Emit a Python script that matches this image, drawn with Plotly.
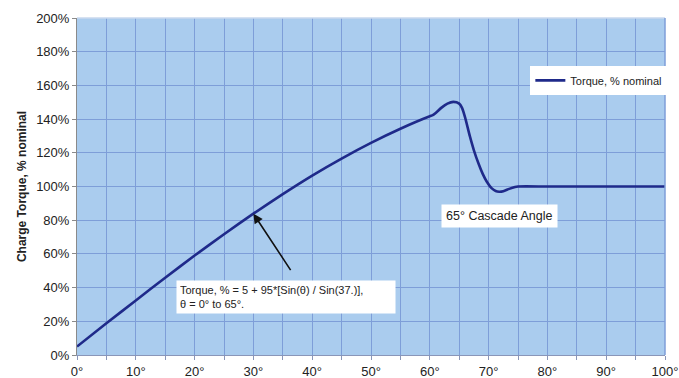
import plotly.graph_objects as go

# Charge torque vs. angle (degrees, % of nominal)
angle_deg = [0, 5, 10, 15, 20, 25, 30, 35, 40, 45, 50, 55, 60, 60.5,
             61, 62, 63, 64, 65, 65.5, 66, 66.8, 67.5, 68.3, 69, 69.7,
             70.5, 71.2, 71.8, 72.5, 73.5, 74.5, 75, 80, 90, 100]
torque_pct = [5, 18.8, 32.4, 45.9, 59.0, 71.7, 83.9, 95.5, 106.5, 116.6, 125.9, 134.3, 141.7, 142.3,
              143.6, 146.8, 149.2, 150.2, 149.2, 146.5, 141.0, 130.0, 121.5, 113.5, 107.5, 102.8,
              99.0, 97.3, 96.9, 97.2, 98.6, 99.7, 100, 100, 100, 100]

x_ticks = list(range(0, 101, 10))
x_tick_text = [f"{v}°" for v in x_ticks]
y_ticks = list(range(0, 201, 20))
y_tick_text = [f"{v}%" for v in y_ticks]

series_name = "Torque, % nominal"
formula_text = "Torque, % = 5 + 95*[Sin(θ) / Sin(37.)],<br>θ = 0° to 65°."
cascade_text = "65° Cascade Angle"

GRID = "#7E9ED8"
BG = "#AACCEE"
LINE = "#1F2A8A"
FONT = "Liberation Sans, Arial, sans-serif"

fig = go.Figure()
fig.add_trace(go.Scatter(
    x=angle_deg, y=torque_pct, mode="lines", name=series_name,
    line=dict(color=LINE, width=2.6, shape="spline", smoothing=0.6),
))

fig.update_layout(
    width=679, height=378,
    margin=dict(l=77, r=14, t=18, b=23),
    paper_bgcolor="white",
    plot_bgcolor=BG,
    font=dict(family=FONT, size=13, color="#222222"),
    showlegend=True,
    legend=dict(
        x=0.771, y=0.858, xanchor="left", yanchor="top",
        bgcolor="white", borderwidth=0,
        font=dict(size=11, color="#222222"),
        itemwidth=30, tracegroupgap=0,
    ),
    xaxis=dict(
        range=[0, 100], tickvals=x_ticks, ticktext=x_tick_text,
        automargin=False,
        showgrid=True, gridcolor=GRID, gridwidth=1,
        ticks="outside", ticklen=4, tickcolor="#8A96B8",
        showline=True, linecolor="#8A96B8", linewidth=1,
        minor=dict(dtick=5, showgrid=True, gridcolor=GRID, gridwidth=1,
                   ticks="outside", ticklen=4, tickcolor="#8A96B8"),
        zeroline=False, tickfont=dict(size=13, color="#222222"),
    ),
    yaxis=dict(
        range=[0, 200], tickvals=y_ticks, ticktext=y_tick_text,
        automargin=False,
        showgrid=True, gridcolor=GRID, gridwidth=1,
        ticks="outside", ticklen=4, tickcolor="#8A8A8A",
        showline=True, linecolor="#8A8A8A", linewidth=1,
        zeroline=False, tickfont=dict(size=13, color="#222222"),
        title=dict(text="<b>Charge Torque, % nominal</b>", font=dict(size=12, color="#222222"),
                   standoff=6),
    ),
)

# plot-area frame on the top and right sides
fig.add_shape(type="line", xref="paper", yref="paper", x0=0, x1=1, y0=1, y1=1,
              line=dict(color="#C9D8EE", width=1.5))
fig.add_shape(type="line", xref="paper", yref="paper", x0=1, x1=1, y0=0, y1=1,
              line=dict(color=GRID, width=1.5))

# formula callout with arrow to the curve at 30°
fig.add_annotation(
    x=30, y=torque_pct[angle_deg.index(30)], ax=36.5, ay=49.5,
    xref="x", yref="y", axref="x", ayref="y",
    text="", showarrow=True, arrowhead=2, arrowsize=1.2, arrowwidth=1.6,
    arrowcolor="#111111",
)
fig.add_annotation(
    x=16.9, y=34.7, xref="x", yref="y", xanchor="left", yanchor="middle",
    text=formula_text, showarrow=False, align="left",
    bgcolor="white", borderpad=3, width=212,
    font=dict(size=11, color="#222222"),
)
fig.add_annotation(
    x=71.8, y=82.5, xref="x", yref="y",
    text=cascade_text, showarrow=False,
    bgcolor="white", borderpad=4,
    font=dict(size=12.5, color="#222222"),
)

fig.write_html("out.html")
